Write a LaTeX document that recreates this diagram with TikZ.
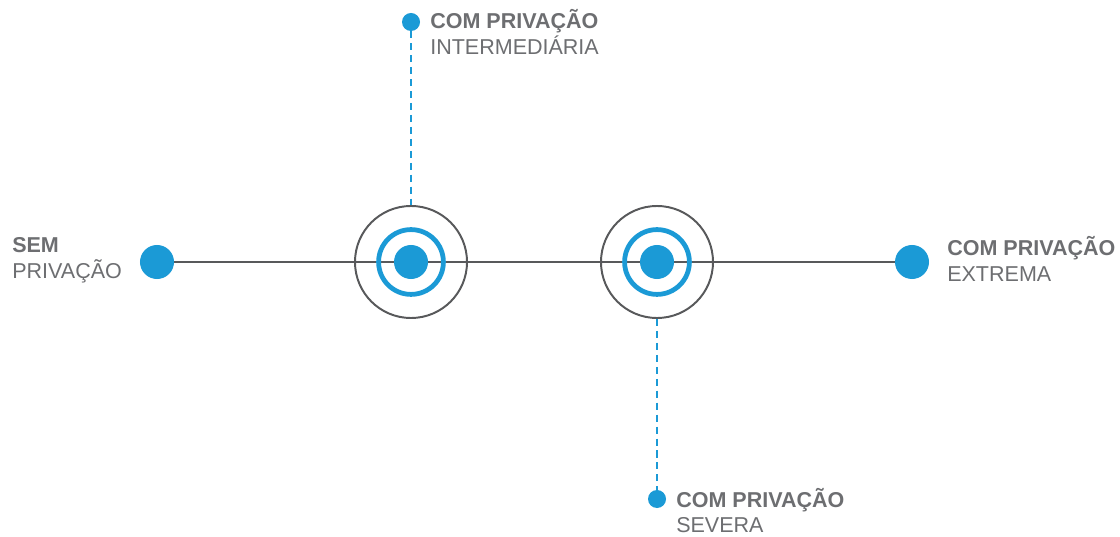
\documentclass[tikz,border=0pt]{standalone}
\usepackage{fontspec}
\setmainfont{Liberation Sans}
\usetikzlibrary{positioning}
\definecolor{dotblue}{HTML}{1B9AD6}
\definecolor{linegray}{HTML}{58595B}
\definecolor{textgray}{HTML}{6D6E71}
\tikzset{
	dot/.style={circle, fill=dotblue, inner sep=0pt, minimum size=0.85cm},
	tinydot/.style={circle, fill=dotblue, inner sep=0pt, minimum size=0.45cm},
	outerring/.style={circle, draw=linegray, line width=1.4pt, inner sep=0pt, minimum size=2.8cm},
	bluering/.style={circle, draw=dotblue, line width=3.4pt, inner sep=0pt, minimum size=1.62cm},
	lbl/.style={text=textgray, font=\fontsize{15.3}{18}\selectfont, inner sep=0pt, anchor=base west},
	guide/.style={draw=dotblue, line width=1.1pt, dash pattern=on 5pt off 3.5pt}
}
\begin{document}
\begin{tikzpicture}[x=0.025cm, y=-0.025cm]
	\useasboundingbox (0, 0) rectangle (1120, 537);
	% points on the scale
	\coordinate (pSem) at (157, 262);
	\coordinate (pInt) at (411, 262);
	\coordinate (pSev) at (657, 262);
	\coordinate (pExt) at (912, 262);
	\draw[linegray, line width=1.3pt] (pSem) -- (pExt);
	% targets
	\node (ringI) at (pInt) [outerring] {};
	\node (blueI) at (pInt) [bluering] {};
	\node (ringS) at (pSev) [outerring] {};
	\node (blueS) at (pSev) [bluering] {};
	\node (semDot) at (pSem) [dot] {};
	\node (intDot) at (pInt) [dot] {};
	\node (sevDot) at (pSev) [dot] {};
	\node (extDot) at (pExt) [dot] {};
	% callouts
	\node (topDot) at (411, 22)	[tinydot] {};
	\node (botDot) at (657, 499)	[tinydot] {};
	\draw[guide] (topDot) -- (ringI.north);
	\draw[guide] (ringS.south) -- (botDot);
	% labels
	\node (semA) at (12, 253)	[lbl] {\textbf{SEM}};
	\node (semB) at (12, 279)	[lbl] {PRIVAÇÃO};
	\node (intA) at (430, 29)	[lbl] {\textbf{COM PRIVAÇÃO}};
	\node (intB) at (430, 55)	[lbl] {INTERMEDIÁRIA};
	\node (extA) at (947, 256)	[lbl] {\textbf{COM PRIVAÇÃO}};
	\node (extB) at (947, 282)	[lbl] {EXTREMA};
	\node (sevA) at (676, 507)	[lbl] {\textbf{COM PRIVAÇÃO}};
	\node (sevB) at (676, 532)	[lbl] {SEVERA};
\end{tikzpicture}
\end{document}
